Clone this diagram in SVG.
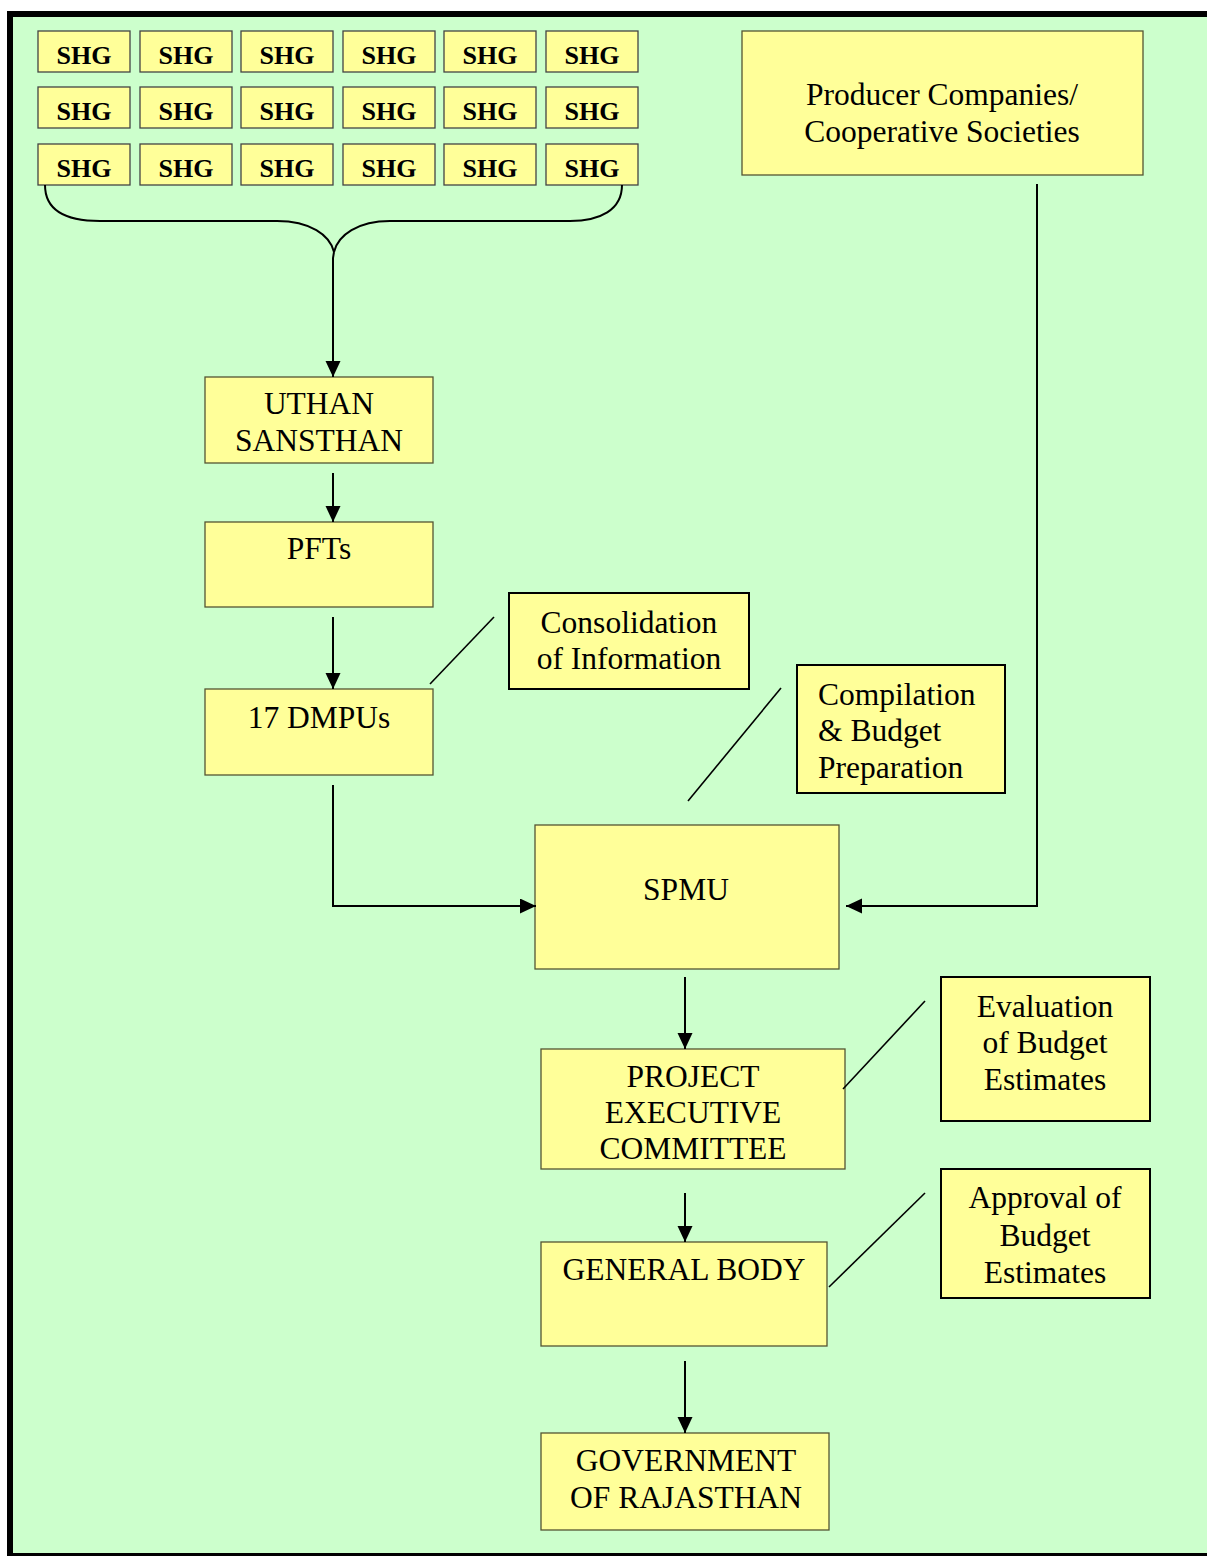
<svg xmlns="http://www.w3.org/2000/svg" width="1207" height="1556" viewBox="0 0 1207 1556">
  <style>
    .box { fill: #FFFF99; stroke: #555533; stroke-width: 1.3; }
    .note { fill: #FFFF99; stroke: #000; stroke-width: 2; }
    .shg { fill: #FFFF99; stroke: #444; stroke-width: 1.3; }
    .t { font-family: "Liberation Serif", "Times New Roman", serif; font-size: 31.5px; fill: #000; text-anchor: middle; }
    .tl { text-anchor: start; }
    .ts { font-family: "Liberation Serif", "Times New Roman", serif; font-size: 26px; font-weight: bold; fill: #000; text-anchor: middle; }
    .wire { fill: none; stroke: #000; stroke-width: 2; }
    .tick { fill: none; stroke: #000; stroke-width: 1.6; }
  </style>
  <defs>
    <marker id="arrow" markerUnits="userSpaceOnUse" markerWidth="16" markerHeight="16" refX="16" refY="7.5" orient="auto">
      <path d="M0,0 L16,7.5 L0,15 Z" fill="#000"/>
    </marker>
  </defs>

  <!-- page and frame -->
  <rect x="0" y="0" width="1207" height="1556" fill="#fff"/>
  <rect x="10" y="14" width="1210" height="1542" fill="#CCFFCC" stroke="#000" stroke-width="6"/>

  <!-- self help groups -->
  <g id="shg-grid">
    <g id="shg-r1">
      <rect class="shg" x="38" y="31" width="92" height="41"/><text class="ts" x="84" y="64">SHG</text>
      <rect class="shg" x="140" y="31" width="92" height="41"/><text class="ts" x="186" y="64">SHG</text>
      <rect class="shg" x="241" y="31" width="92" height="41"/><text class="ts" x="287" y="64">SHG</text>
      <rect class="shg" x="343" y="31" width="92" height="41"/><text class="ts" x="389" y="64">SHG</text>
      <rect class="shg" x="444" y="31" width="92" height="41"/><text class="ts" x="490" y="64">SHG</text>
      <rect class="shg" x="546" y="31" width="92" height="41"/><text class="ts" x="592" y="64">SHG</text>
    </g>
    <g id="shg-r2">
      <rect class="shg" x="38" y="87" width="92" height="41"/><text class="ts" x="84" y="120">SHG</text>
      <rect class="shg" x="140" y="87" width="92" height="41"/><text class="ts" x="186" y="120">SHG</text>
      <rect class="shg" x="241" y="87" width="92" height="41"/><text class="ts" x="287" y="120">SHG</text>
      <rect class="shg" x="343" y="87" width="92" height="41"/><text class="ts" x="389" y="120">SHG</text>
      <rect class="shg" x="444" y="87" width="92" height="41"/><text class="ts" x="490" y="120">SHG</text>
      <rect class="shg" x="546" y="87" width="92" height="41"/><text class="ts" x="592" y="120">SHG</text>
    </g>
    <g id="shg-r3">
      <rect class="shg" x="38" y="144" width="92" height="41"/><text class="ts" x="84" y="177">SHG</text>
      <rect class="shg" x="140" y="144" width="92" height="41"/><text class="ts" x="186" y="177">SHG</text>
      <rect class="shg" x="241" y="144" width="92" height="41"/><text class="ts" x="287" y="177">SHG</text>
      <rect class="shg" x="343" y="144" width="92" height="41"/><text class="ts" x="389" y="177">SHG</text>
      <rect class="shg" x="444" y="144" width="92" height="41"/><text class="ts" x="490" y="177">SHG</text>
      <rect class="shg" x="546" y="144" width="92" height="41"/><text class="ts" x="592" y="177">SHG</text>
    </g>
  </g>

  <g id="producers">
    <rect class="box" x="742" y="31" width="401" height="144"/>
    <text class="t" x="942" y="105">Producer Companies/</text>
    <text class="t" x="942" y="142">Cooperative Societies</text>
  </g>

  <g id="uthan">
    <rect class="box" x="205" y="377" width="228" height="86"/>
    <text class="t" x="319" y="414">UTHAN</text>
    <text class="t" x="319" y="451">SANSTHAN</text>
  </g>

  <g id="pfts">
    <rect class="box" x="205" y="522" width="228" height="85"/>
    <text class="t" x="319" y="559">PFTs</text>
  </g>

  <g id="dmpus">
    <rect class="box" x="205" y="689" width="228" height="86"/>
    <text class="t" x="319" y="728">17 DMPUs</text>
  </g>

  <g id="consolidation">
    <rect class="note" x="509" y="593" width="240" height="96"/>
    <text class="t" x="629" y="633">Consolidation</text>
    <text class="t" x="629" y="669">of Information</text>
  </g>

  <g id="compilation">
    <rect class="note" x="797" y="665" width="208" height="128"/>
    <text class="t tl" x="818" y="705">Compilation</text>
    <text class="t tl" x="818" y="741">&amp; Budget</text>
    <text class="t tl" x="818" y="778">Preparation</text>
  </g>

  <g id="spmu">
    <rect class="box" x="535" y="825" width="304" height="144"/>
    <text class="t" x="686" y="900">SPMU</text>
  </g>

  <g id="pec">
    <rect class="box" x="541" y="1049" width="304" height="120"/>
    <text class="t" x="693" y="1087">PROJECT</text>
    <text class="t" x="693" y="1123">EXECUTIVE</text>
    <text class="t" x="693" y="1159">COMMITTEE</text>
  </g>

  <g id="evaluation">
    <rect class="note" x="941" y="977" width="209" height="144"/>
    <text class="t" x="1045" y="1017">Evaluation</text>
    <text class="t" x="1045" y="1053">of Budget</text>
    <text class="t" x="1045" y="1090">Estimates</text>
  </g>

  <g id="general-body">
    <rect class="box" x="541" y="1242" width="286" height="104"/>
    <text class="t" x="684" y="1280">GENERAL BODY</text>
  </g>

  <g id="approval">
    <rect class="note" x="941" y="1169" width="209" height="129"/>
    <text class="t" x="1045" y="1208">Approval of</text>
    <text class="t" x="1045" y="1246">Budget</text>
    <text class="t" x="1045" y="1283">Estimates</text>
  </g>

  <g id="government">
    <rect class="box" x="541" y="1433" width="288" height="97"/>
    <text class="t" x="686" y="1471">GOVERNMENT</text>
    <text class="t" x="686" y="1508">OF RAJASTHAN</text>
  </g>

  <g id="connectors">
    <!-- brace gathering the groups -->
    <path class="wire" d="M45,185 C45,210 65,221 100,221 L277,221 C310,221 330,235 334,252 C338,235 358,221 390,221 L570,221 C600,221 622,210 622,185"/>
    <path class="wire" d="M334,252 L333,258 L333,377" marker-end="url(#arrow)"/>
    <line class="wire" x1="333" y1="473" x2="333" y2="522" marker-end="url(#arrow)"/>
    <line class="wire" x1="333" y1="617" x2="333" y2="689" marker-end="url(#arrow)"/>
    <path class="wire" d="M333,785 L333,906 L536,906" marker-end="url(#arrow)"/>
    <path class="wire" d="M1037,184 L1037,906 L846,906" marker-end="url(#arrow)"/>
    <line class="wire" x1="685" y1="977" x2="685" y2="1049" marker-end="url(#arrow)"/>
    <line class="wire" x1="685" y1="1193" x2="685" y2="1242" marker-end="url(#arrow)"/>
    <line class="wire" x1="685" y1="1361" x2="685" y2="1433" marker-end="url(#arrow)"/>
    <!-- note leaders -->
    <line class="tick" x1="430" y1="684" x2="494" y2="617"/>
    <line class="tick" x1="688" y1="801" x2="781" y2="688"/>
    <line class="tick" x1="843" y1="1089" x2="925" y2="1001"/>
    <line class="tick" x1="829" y1="1287" x2="925" y2="1193"/>
  </g>
</svg>
